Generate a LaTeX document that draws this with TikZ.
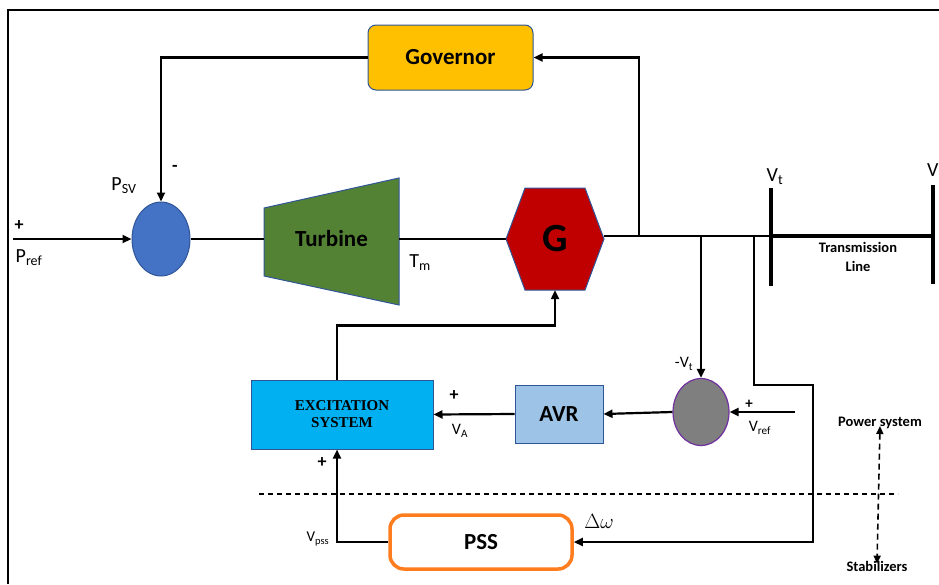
\documentclass[tikz,border=0pt]{standalone}
\usepackage{fontspec}
\setmainfont{Carlito}
\newfontfamily\timesf{Liberation Serif}
\usetikzlibrary{arrows.meta,shapes.geometric}
\definecolor{govc}{HTML}{FFC000}
\definecolor{bluec}{HTML}{4472C4}
\definecolor{turbc}{HTML}{548235}
\definecolor{genc}{HTML}{C00000}
\definecolor{excc}{HTML}{00B0F0}
\definecolor{avrc}{HTML}{9DC3E6}
\definecolor{edgec}{HTML}{2F5597}
\definecolor{grayc}{HTML}{7F7F7F}
\definecolor{purc}{HTML}{7030A0}
\definecolor{orc}{HTML}{FF7C1F}
\tikzset{
  wire/.style={line width=2.2pt},
  arr/.style={wire,-{Triangle[length=9pt,width=8pt]}},
  bigtxt/.style={font=\bfseries\fontsize{23}{25}\selectfont},
  lbl/.style={font=\fontsize{20}{22}\selectfont,inner sep=0pt},
  lbls/.style={font=\fontsize{16}{18}\selectfont,inner sep=0pt},
  smallb/.style={font=\bfseries\fontsize{14.5}{16}\selectfont,inner sep=0pt},
  plus/.style={font=\bfseries\fontsize{18}{20}\selectfont,inner sep=0pt},
}
\begin{document}
\begin{tikzpicture}[x=1pt,y=-1pt]
\useasboundingbox (0,0) rectangle (939,584);
% frame
\draw[line width=2pt] (8,584) -- (8,10) -- (939,10);
% governor
\node[bigtxt,draw=edgec,line width=1pt,fill=govc,rounded corners=8pt,minimum width=165pt,minimum height=65pt] (gov) at (450.5,57.5) {Governor};
% summing junction 1
\node[ellipse,draw=edgec,line width=1pt,fill=bluec,minimum width=58pt,minimum height=74pt,inner sep=0pt] (s1) at (161,239) {};
% turbine
\fill[turbc,draw=edgec,line width=1pt] (264,208) -- (399,178) -- (399,305) -- (264,276) -- cycle;
\node[bigtxt,minimum width=135pt,minimum height=68pt,inner sep=0pt] (turb) at (331.5,239) {Turbine};
% generator
\fill[genc,draw=edgec,line width=1pt] (506,239) -- (525,188) -- (585,188) -- (604,239) -- (585,290) -- (525,290) -- cycle;
\node[font=\bfseries\fontsize{40}{42}\selectfont,minimum width=98pt,minimum height=102pt,inner sep=0pt] (G) at (555,239) {G};
% excitation
\node[draw=edgec,line width=1pt,fill=excc,minimum width=182pt,minimum height=69pt,align=center,font=\timesf\bfseries\fontsize{15}{17}\selectfont] (exc) at (342,414.5) {EXCITATION\\SYSTEM};
% AVR
\node[bigtxt,draw=edgec,line width=1pt,fill=avrc,minimum width=88pt,minimum height=58pt] (avr) at (559,414) {AVR};
% summing junction 2
\node[ellipse,draw=purc,line width=1.2pt,fill=grayc,minimum width=56pt,minimum height=67pt,inner sep=0pt] (s2) at (701,412) {};
% PSS
\node[bigtxt,draw=orc,line width=3.5pt,rounded corners=14pt,minimum width=182pt,minimum height=54pt] (pss) at (481,542) {PSS};
% buses
\coordinate (vtt) at (771,188); \coordinate (vtb) at (771,286);
\coordinate (vt) at (771,236);
\coordinate (vvt) at (933,185); \coordinate (vvb) at (933,284);
\coordinate (vv) at (933,236);
\draw[line width=4.5pt] (vtt) -- (vtb);
\draw[line width=4pt] (vvt) -- (vvb);
% coordinates
\coordinate (in) at (13,239);
\coordinate (j1) at (639,236);
\coordinate (j2) at (701,236);
\coordinate (j3) at (754,236);
\coordinate (vref) at (795,412);
% wires
\draw[arr] (in) -- (s1.west);
\draw[wire] (s1.east) -- (turb.west);
\draw[wire] (turb.east) -- (G.west);
\draw[wire] (G.east |- vt) -- (vt);
\draw[line width=3.5pt] (vt) -- (vv);
\draw[arr] (j1) |- (gov.east);
\draw[arr] (gov.west) -| (s1.north);
\draw[arr] (j2) -- (s2.north);
\draw[arr] (j3) -- (754,385) -- (813,385) -- (813,542) -- (pss.east);
\draw[arr] (vref) -- (s2.east);
\draw[arr] (s2.west) -- (avr.east);
\draw[arr] (avr.west) -- (exc.east);
\draw[arr] ([xshift=-5pt]exc.north) -- ++(0,-54) -| (G.south);
\draw[arr] (pss.west) -| ([xshift=-5pt]exc.south);
% dashed separator
\draw[line width=1.6pt,dash pattern=on 5pt off 4pt] (259,494) -- (898,494);
\node[smallb] (ps) at (880,423) {Power system};
\node[smallb] (st) at (877,566) {Stabilizers};
\draw[line width=1.6pt,dash pattern=on 6pt off 4pt,{Triangle[length=8pt,width=7pt]}-{Triangle[length=8pt,width=7pt]}] ([yshift=3pt]ps.south) -- ([yshift=-3pt]st.north);
% labels
\node[plus] at (175,168) {-};
\node[lbl] at (124,186) {P\textsubscript{SV}};
\node[plus] at (19,226) {+};
\node[lbl] at (29,258) {P\textsubscript{ref}};
\node[lbl] at (420,263) {T\textsubscript{m}};
\node[lbl] at (775,177) {V\textsubscript{t}};
\node[lbl,anchor=west] at (927,170) {V};
\node[smallb,align=center] at (858,257) {Transmission\\[3pt]Line};
\node[lbls] at (684,364) {-V\textsubscript{t}};
\node[plus,font=\bfseries\fontsize{15}{17}\selectfont] at (749,404) {+};
\node[lbls] at (760,428) {V\textsubscript{ref}};
\node[plus] at (454,396) {+};
\node[lbls] at (460,431) {V\textsubscript{A}};
\node[plus] at (322,463) {+};
\node[lbls,font=\fontsize{15}{17}\selectfont] at (318,539) {V\textsubscript{pss}};
\node[inner sep=0pt,font=\fontsize{20}{22}\selectfont] at (599,521) {$\Delta\omega$};
\end{tikzpicture}
\end{document}
